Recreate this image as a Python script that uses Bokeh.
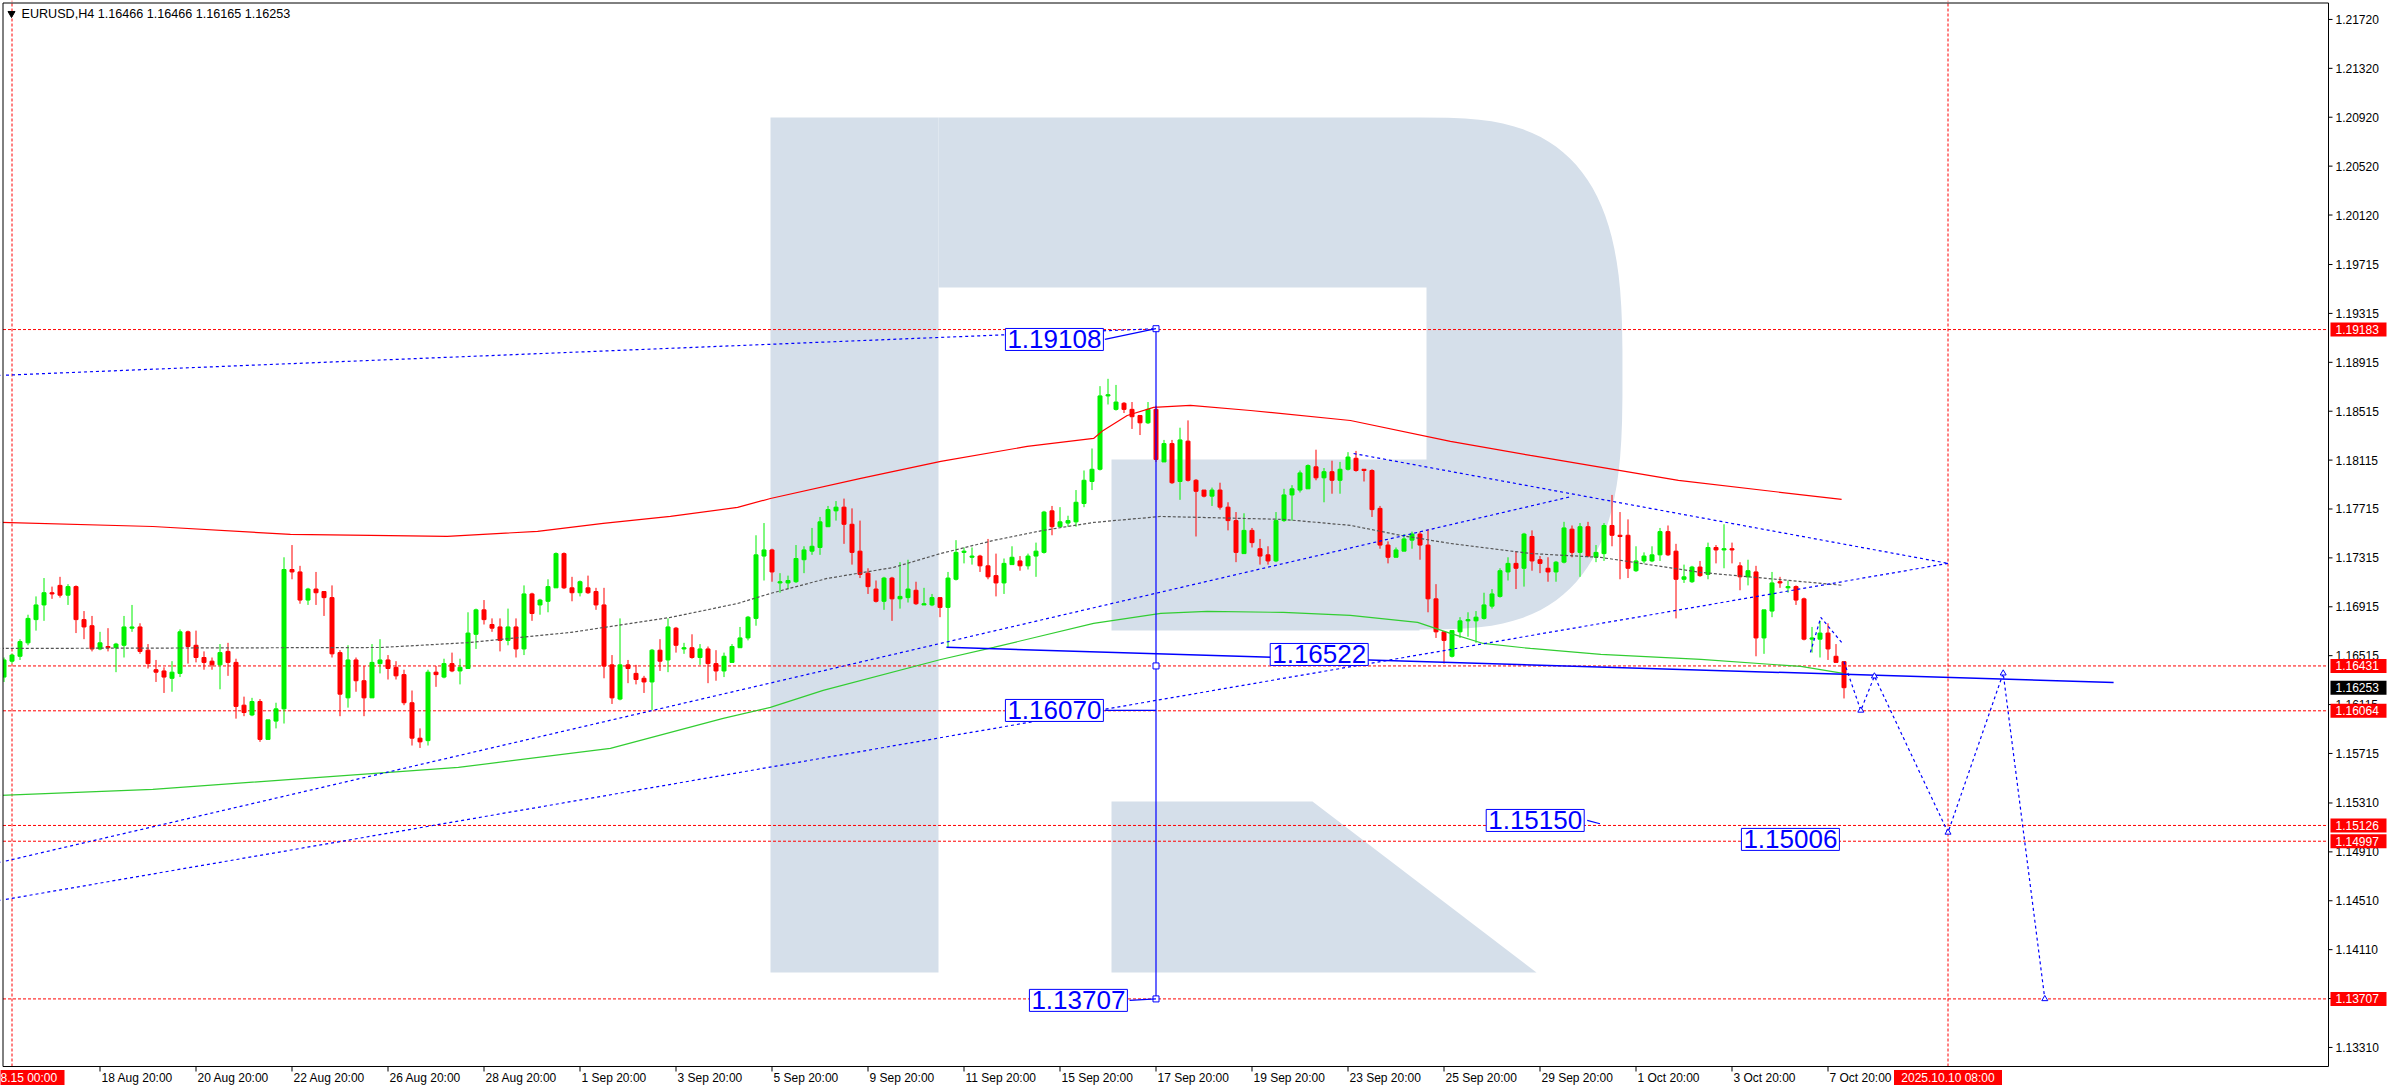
import numpy as np
from bokeh.plotting import figure
from bokeh.models import Range1d, Label, ColumnDataSource
from bokeh.core.properties import value
from bokeh.embed import file_html
from bokeh.resources import INLINE

# ---------------- data ----------------
title_text = "EURUSD,H4  1.16466 1.16466 1.16165 1.16253"
first_bar = -1   # bar index of first candle (0 = 2025.08.15 00:00)

opens = [
1.1634, 1.1647, 1.1651, 1.1662, 1.1681, 1.1693, 1.1703, 1.1709, 1.1701, 1.1708, 1.1681, 1.1676,
1.1657, 1.1659, 1.1658, 1.1660, 1.1674, 1.1675, 1.1656, 1.1640, 1.1639, 1.1633, 1.1637, 1.1671,
1.1660, 1.1650, 1.1647, 1.1644, 1.1655, 1.1646, 1.1611, 1.1603, 1.1614, 1.1583, 1.1598, 1.1608,
1.1722, 1.1720, 1.1697, 1.1706, 1.1704, 1.1699, 1.1654, 1.1617, 1.1648, 1.1631, 1.1617, 1.1645,
1.1648, 1.1642, 1.1636, 1.1613, 1.1584, 1.1582, 1.1638, 1.1634, 1.1645, 1.1639, 1.1641, 1.1669,
1.1689, 1.1677, 1.1675, 1.1664, 1.1675, 1.1657, 1.1702, 1.1693, 1.1696, 1.1707, 1.1735, 1.1707,
1.1703, 1.1707, 1.1704, 1.1693, 1.1644, 1.1616, 1.1644, 1.1637, 1.1633, 1.1630, 1.1656, 1.1648,
1.1674, 1.1657, 1.1658, 1.1650, 1.1657, 1.1645, 1.1639, 1.1646, 1.1658, 1.1666, 1.1682, 1.1733,
1.1738, 1.1711, 1.1711, 1.1712, 1.1730, 1.1737, 1.1740, 1.1757, 1.1770, 1.1773, 1.1759, 1.1737,
1.1719, 1.1706, 1.1696, 1.1715, 1.1698, 1.1699, 1.1705, 1.1693, 1.1693, 1.1699, 1.1691, 1.1714,
1.1736, 1.1732, 1.1733, 1.1725, 1.1717, 1.1711, 1.1726, 1.1729, 1.1725, 1.1733, 1.1736, 1.1770,
1.1757, 1.1760, 1.1761, 1.1776, 1.1794, 1.1804, 1.1864, 1.1853, 1.1858, 1.1853, 1.1848, 1.1842,
1.1853, 1.1810, 1.1825, 1.1794, 1.1827, 1.1795, 1.1787, 1.1782, 1.1787, 1.1773, 1.1762, 1.1735,
1.1754, 1.1739, 1.1734, 1.1729, 1.1762, 1.1783, 1.1787, 1.1788, 1.1806, 1.1797, 1.1802, 1.1795,
1.1804, 1.1813, 1.1804, 1.1803, 1.1772, 1.1742, 1.1732, 1.1737, 1.1746, 1.1751, 1.1742, 1.1698,
1.1671, 1.1651, 1.1671, 1.1680, 1.1680, 1.1682, 1.1692, 1.1700, 1.1720, 1.1727, 1.1723, 1.1749,
1.1730, 1.1723, 1.1720, 1.1728, 1.1755, 1.1736, 1.1757, 1.1732, 1.1735, 1.1758, 1.1750, 1.1750,
1.1721, 1.1729, 1.1729, 1.1734, 1.1753, 1.1737, 1.1714, 1.1712, 1.1724, 1.1718, 1.1740, 1.1738,
1.1739, 1.1725, 1.1716, 1.1720, 1.1666, 1.1688, 1.1712, 1.1707, 1.1708, 1.1698, 1.1665, 1.1665,
1.1670, 1.1651, 1.16466]

highs = [
1.1650, 1.1653, 1.1665, 1.1685, 1.1700, 1.1715, 1.1708, 1.1716, 1.1710, 1.1709, 1.1688, 1.1684,
1.1671, 1.1674, 1.1662, 1.1684, 1.1693, 1.1678, 1.1661, 1.1648, 1.1642, 1.1647, 1.1673, 1.1672,
1.1672, 1.1655, 1.1650, 1.1661, 1.1662, 1.1649, 1.1618, 1.1617, 1.1616, 1.1599, 1.1613, 1.1732,
1.1742, 1.1725, 1.1707, 1.1720, 1.1704, 1.1709, 1.1656, 1.1660, 1.1650, 1.1643, 1.1661, 1.1665,
1.1652, 1.1647, 1.1640, 1.1623, 1.1592, 1.1640, 1.1643, 1.1649, 1.1654, 1.1649, 1.1687, 1.1690,
1.1697, 1.1682, 1.1682, 1.1690, 1.1682, 1.1709, 1.1703, 1.1698, 1.1714, 1.1736, 1.1736, 1.1716,
1.1713, 1.1717, 1.1707, 1.1707, 1.1652, 1.1682, 1.1648, 1.1644, 1.1635, 1.1657, 1.1665, 1.1682,
1.1675, 1.1662, 1.1669, 1.1661, 1.1659, 1.1656, 1.1654, 1.1661, 1.1675, 1.1684, 1.1750, 1.1760,
1.1739, 1.1719, 1.1717, 1.1742, 1.1741, 1.1756, 1.1765, 1.1774, 1.1778, 1.1780, 1.1772, 1.1762,
1.1723, 1.1713, 1.1716, 1.1716, 1.1728, 1.1730, 1.1712, 1.1707, 1.1702, 1.1699, 1.1720, 1.1746,
1.1740, 1.1740, 1.1734, 1.1747, 1.1735, 1.1731, 1.1741, 1.1733, 1.1735, 1.1744, 1.1770, 1.1774,
1.1773, 1.1766, 1.1787, 1.1803, 1.1821, 1.1872, 1.1878, 1.1873, 1.1859, 1.1859, 1.1848, 1.1859,
1.1856, 1.1828, 1.1828, 1.1838, 1.1844, 1.1796, 1.1787, 1.1789, 1.1793, 1.1777, 1.1769, 1.1768,
1.1756, 1.1747, 1.1741, 1.1769, 1.1788, 1.1791, 1.1803, 1.1808, 1.1820, 1.1805, 1.1811, 1.1810,
1.1818, 1.1819, 1.1804, 1.1804, 1.1774, 1.1745, 1.1740, 1.1751, 1.1753, 1.1753, 1.1755, 1.1710,
1.1671, 1.1672, 1.1683, 1.1687, 1.1688, 1.1703, 1.1706, 1.1723, 1.1732, 1.1737, 1.1752, 1.1754,
1.1733, 1.1732, 1.1729, 1.1761, 1.1758, 1.1760, 1.1761, 1.1742, 1.1760, 1.1783, 1.1769, 1.1763,
1.1741, 1.1736, 1.1741, 1.1756, 1.1758, 1.1743, 1.1726, 1.1725, 1.1729, 1.1744, 1.1742, 1.1759,
1.1744, 1.1728, 1.1730, 1.1725, 1.1689, 1.1720, 1.1716, 1.1713, 1.1709, 1.1699, 1.1675, 1.1680,
1.1678, 1.1661, 1.16466]

lows = [
1.1630, 1.1645, 1.1648, 1.1660, 1.1672, 1.1680, 1.1698, 1.1699, 1.1693, 1.1670, 1.1665, 1.1655,
1.1656, 1.1655, 1.1638, 1.1650, 1.1671, 1.1653, 1.1641, 1.1630, 1.1621, 1.1622, 1.1634, 1.1645,
1.1646, 1.1640, 1.1640, 1.1624, 1.1635, 1.1600, 1.1602, 1.1602, 1.1581, 1.1583, 1.1592, 1.1596,
1.1714, 1.1694, 1.1693, 1.1693, 1.1684, 1.1650, 1.1602, 1.1609, 1.1622, 1.1602, 1.1617, 1.1637,
1.1632, 1.1632, 1.1611, 1.1578, 1.1576, 1.1578, 1.1626, 1.1633, 1.1638, 1.1628, 1.1641, 1.1657,
1.1677, 1.1671, 1.1655, 1.1660, 1.1650, 1.1652, 1.1680, 1.1685, 1.1687, 1.1707, 1.1706, 1.1696,
1.1700, 1.1702, 1.1689, 1.1633, 1.1612, 1.1615, 1.1629, 1.1628, 1.1621, 1.1607, 1.1639, 1.1638,
1.1654, 1.1653, 1.1649, 1.1644, 1.1629, 1.1631, 1.1634, 1.1646, 1.1658, 1.1664, 1.1676, 1.1713,
1.1712, 1.1703, 1.1706, 1.1711, 1.1719, 1.1734, 1.1734, 1.1757, 1.1762, 1.1743, 1.1726, 1.1715,
1.1702, 1.1695, 1.1689, 1.1680, 1.1690, 1.1695, 1.1693, 1.1693, 1.1692, 1.1683, 1.1658, 1.1713,
1.1727, 1.1726, 1.1720, 1.1714, 1.1700, 1.1702, 1.1726, 1.1721, 1.1722, 1.1716, 1.1735, 1.1750,
1.1757, 1.1757, 1.1757, 1.1773, 1.1787, 1.1803, 1.1857, 1.1852, 1.1850, 1.1837, 1.1832, 1.1841,
1.1810, 1.1810, 1.1792, 1.1779, 1.1794, 1.1749, 1.1781, 1.1774, 1.1771, 1.1754, 1.1728, 1.1735,
1.1740, 1.1726, 1.1726, 1.1728, 1.1761, 1.1762, 1.1785, 1.1788, 1.1795, 1.1777, 1.1784, 1.1784,
1.1803, 1.1802, 1.1794, 1.1765, 1.1739, 1.1727, 1.1732, 1.1737, 1.1739, 1.1730, 1.1687, 1.1666,
1.1645, 1.1650, 1.1666, 1.1667, 1.1662, 1.1681, 1.1690, 1.1699, 1.1713, 1.1706, 1.1708, 1.1721,
1.1719, 1.1712, 1.1712, 1.1727, 1.1732, 1.1716, 1.1732, 1.1728, 1.1729, 1.1741, 1.1714, 1.1715,
1.1720, 1.1727, 1.1728, 1.1729, 1.1733, 1.1682, 1.1711, 1.1711, 1.1716, 1.1714, 1.1727, 1.1723,
1.1727, 1.1705, 1.1709, 1.1651, 1.1653, 1.1683, 1.1707, 1.1703, 1.1693, 1.1664, 1.1654, 1.1650,
1.1648, 1.1646, 1.16165]

closes = [
1.1648, 1.1652, 1.1663, 1.1682, 1.1693, 1.1703, 1.1702, 1.1701, 1.1708, 1.1681, 1.1675, 1.1657,
1.1662, 1.1658, 1.1661, 1.1675, 1.1675, 1.1655, 1.1645, 1.1638, 1.1634, 1.1638, 1.1671, 1.1659,
1.1650, 1.1646, 1.1644, 1.1654, 1.1646, 1.1610, 1.1605, 1.1614, 1.1583, 1.1599, 1.1608, 1.1722,
1.1720, 1.1697, 1.1706, 1.1703, 1.1699, 1.1653, 1.1620, 1.1648, 1.1631, 1.1617, 1.1646, 1.1648,
1.1641, 1.1635, 1.1613, 1.1584, 1.1581, 1.1638, 1.1636, 1.1645, 1.1639, 1.1642, 1.1670, 1.1689,
1.1681, 1.1674, 1.1664, 1.1675, 1.1657, 1.1702, 1.1686, 1.1697, 1.1708, 1.1735, 1.1707, 1.1703,
1.1712, 1.1703, 1.1693, 1.1643, 1.1617, 1.1644, 1.1641, 1.1632, 1.1630, 1.1656, 1.1647, 1.1675,
1.1660, 1.1658, 1.1650, 1.1657, 1.1645, 1.1639, 1.1651, 1.1659, 1.1666, 1.1683, 1.1734, 1.1738,
1.1720, 1.1712, 1.1713, 1.1731, 1.1738, 1.1741, 1.1761, 1.1771, 1.1773, 1.1759, 1.1736, 1.1718,
1.1708, 1.1696, 1.1715, 1.1698, 1.1700, 1.1706, 1.1694, 1.1694, 1.1699, 1.1691, 1.1715, 1.1736,
1.1737, 1.1733, 1.1725, 1.1716, 1.1711, 1.1727, 1.1732, 1.1725, 1.1733, 1.1737, 1.1769, 1.1757,
1.1761, 1.1762, 1.1777, 1.1795, 1.1804, 1.1864, 1.1865, 1.1859, 1.1853, 1.1847, 1.1842, 1.1853,
1.1812, 1.1825, 1.1793, 1.1828, 1.1795, 1.1786, 1.1782, 1.1787, 1.1773, 1.1762, 1.1736, 1.1754,
1.1744, 1.1733, 1.1729, 1.1762, 1.1783, 1.1788, 1.1801, 1.1807, 1.1797, 1.1802, 1.1795, 1.1804,
1.1814, 1.1803, 1.1803, 1.1771, 1.1742, 1.1732, 1.1738, 1.1747, 1.1751, 1.1742, 1.1698, 1.1671,
1.1664, 1.1672, 1.1680, 1.1681, 1.1683, 1.1693, 1.1702, 1.1721, 1.1727, 1.1723, 1.1751, 1.1729,
1.1727, 1.1720, 1.1728, 1.1756, 1.1736, 1.1757, 1.1733, 1.1736, 1.1758, 1.1750, 1.1749, 1.1723,
1.1729, 1.1733, 1.1734, 1.1753, 1.1734, 1.1714, 1.1716, 1.1724, 1.1717, 1.1740, 1.1738, 1.1739,
1.1738, 1.1716, 1.1721, 1.1666, 1.1689, 1.1711, 1.1711, 1.1708, 1.1697, 1.1665, 1.1666, 1.1670,
1.1657, 1.1646, 1.16253]

# moving averages (bar index, price)
ma_red_x = [-1.4, 17.6, 34.8, 44.8, 54.4, 65.7, 73.9, 82.3, 90.7, 94.8, 106.1, 116.1, 126.9, 135.2,
            136.4, 139.4, 142.7, 147.3, 154.8, 167.3, 179.8, 189.8, 208.3, 228.7]
ma_red_y = [1.17605, 1.17572, 1.17507, 1.17499, 1.17491, 1.17532, 1.17597, 1.17654, 1.17728, 1.17801,
            1.17965, 1.18104, 1.18227, 1.18292, 1.18358, 1.18480, 1.18546, 1.18562, 1.18521, 1.18439,
            1.18268, 1.18153, 1.17949, 1.17793]
ma_green_x = [-1.4, 17.6, 36.7, 55.8, 74.8, 88.9, 94.8, 101.4, 116.1, 122.7, 135.2, 143.6, 149.4,
              158.9, 167.3, 175.7, 179.8, 183.9, 189.8, 198.6, 211.1, 223.6, 228.9]
ma_green_y = [1.15372, 1.15421, 1.15511, 1.15601, 1.15756, 1.16002, 1.16092, 1.16231, 1.16484,
              1.16583, 1.16779, 1.16861, 1.16877, 1.16869, 1.16844, 1.16787, 1.16697, 1.16615,
              1.16574, 1.16525, 1.16484, 1.16427, 1.16370]
ma_grey_x = [-1.4, 46.1, 57.3, 69.8, 82.3, 90.7, 94.8, 101.9, 110.2, 116.1, 122.7, 128.9, 135.2,
             143.6, 158.9, 167.3, 173.6, 179.8, 189.8, 198.6, 211.1, 219.4, 228.9]
ma_grey_y = [1.16574, 1.16582, 1.16623, 1.16705, 1.16828, 1.16942, 1.17024, 1.17147, 1.17237,
             1.17351, 1.17458, 1.17540, 1.17605, 1.17654, 1.17630, 1.17581, 1.17499, 1.17433,
             1.17351, 1.17319, 1.17196, 1.17147, 1.17090]

# drawn objects
trend_a_x, trend_a_y = [-1.5, 143], [1.18808, 1.19190]
trend_b_x, trend_b_y = [-1.5, 195], [1.14824, 1.17818]
trend_c_x, trend_c_y = [-1.5, 242], [1.14513, 1.17270]
trend_d_x, trend_d_y = [167.7, 242], [1.18169, 1.17270]
support_x, support_y = [116.8, 262.7], [1.16583, 1.16296]
vline_x, vline_y = [143, 143], [1.19190, 1.13707]
vline_nodes_y = [1.19190, 1.16431, 1.13707]
forecast_x = [229, 231.1, 232.8, 242, 248.9, 254.1]
forecast_y = [1.16466, 1.16067, 1.16347, 1.15069, 1.16371, 1.13707]
zigzag_x = [224.8, 226.1, 228.9]
zigzag_y = [1.16542, 1.16828, 1.16608]

levels = [1.19183, 1.16431, 1.16064, 1.15126, 1.14997, 1.13707]
current_price = 1.16253

box_texts = ["1.19108", "1.16070", "1.16522", "1.15150", "1.15006", "1.13707"]
box_x = [130.3, 130.3, 163.4, 190.4, 222.3, 133.3]
box_y = [1.19102, 1.16067, 1.16525, 1.15167, 1.15012, 1.13695]

tick_bars = [11, 23, 35, 47, 59, 71, 83, 95, 107, 119, 131, 143, 155, 167, 179, 191, 203, 215, 227]
tick_labels = ["18 Aug 20:00", "20 Aug 20:00", "22 Aug 20:00", "26 Aug 20:00", "28 Aug 20:00",
               "1 Sep 20:00", "3 Sep 20:00", "5 Sep 20:00", "9 Sep 20:00", "11 Sep 20:00",
               "15 Sep 20:00", "17 Sep 20:00", "19 Sep 20:00", "23 Sep 20:00", "25 Sep 20:00",
               "29 Sep 20:00", "1 Oct 20:00", "3 Oct 20:00", "7 Oct 20:00"]
price_ticks = [1.21720, 1.21320, 1.20920, 1.20520, 1.20120, 1.19715, 1.19315, 1.18915, 1.18515,
               1.18115, 1.17715, 1.17315, 1.16915, 1.16515, 1.16115, 1.15715, 1.15310, 1.14910,
               1.14510, 1.14110, 1.13710, 1.13310]
crosshair_bars = [0, 242]
crosshair_texts = ["2025.08.15 00:00", "2025.10.10 08:00"]

# ---------------- layout (whole canvas is the data frame) ----------------
W, H = 2392, 1090
BAR_PX = 8.0                 # pixels per bar
PRICE_PX = 0.00008181        # price per pixel
X0 = -11.5 / BAR_PX          # canvas x = 0
X1 = X0 + W / BAR_PX
Y1 = 1.21875                 # canvas y = 0
Y0 = Y1 - H * PRICE_PX

def cx(px):   # canvas pixel -> bar coordinate
    return X0 + px / BAR_PX

def cy(py):   # canvas pixel -> price coordinate
    return Y1 - py * PRICE_PX

XL, XR = cx(2.5), cx(2328)
YT, YB = cy(2.5), cy(1066)
FONT = "Liberation Sans"
BLUE = "#0000FF"

p = figure(width=W, height=H, x_range=Range1d(X0, X1), y_range=Range1d(Y0, Y1),
           x_axis_location=None, y_axis_location=None, output_backend="svg", toolbar_location=None,
           min_border_left=0, min_border_top=0, min_border_right=0, min_border_bottom=0,
           background_fill_color="white", border_fill_color="white")
p.grid.visible = False
p.outline_line_color = None

# watermark "R" (decoration), outline given in canvas pixels
t = np.linspace(-np.pi / 2, np.pi / 2, 60)
arc_x = 1419 + 203 * np.sign(np.cos(t)) * np.abs(np.cos(t)) ** (2 / 3)
arc_y = 373 + 256 * np.sign(np.sin(t)) * np.abs(np.sin(t)) ** (2 / 3)
bowl_x = [938, 1419] + list(arc_x) + [1419, 1111, 1111, 1426, 1426, 938]
bowl_y = [117, 117] + list(arc_y) + [630, 630, 459, 459, 287, 287]
stem_x, stem_y = [770, 938, 938, 770], [117, 117, 972, 972]
leg_x, leg_y = [1111, 1312, 1536, 1111], [801, 801, 972, 972]
wxs, wys = [], []
for sx, sy in [(stem_x, stem_y), (bowl_x, bowl_y), (leg_x, leg_y)]:
    wxs.append([cx(v) for v in sx])
    wys.append([cy(v) for v in sy])
p.patches(wxs, wys, fill_color="#D5DFEA", line_color=None)

# level lines and crosshair lines
p.segment(x0=[XL] * len(levels), y0=levels, x1=[XR] * len(levels), y1=levels,
          line_color="#FF0000", line_dash="3 2", line_width=1)
p.segment(x0=crosshair_bars, y0=[YB] * 2, x1=crosshair_bars, y1=[Y1] * 2,
          line_color="#FF0000", line_dash="3 2", line_width=1)

# candles
idx = list(range(first_bar, first_bar + len(opens)))
up = dict(x=[], h=[], l=[], top=[], bot=[])
dn = dict(x=[], h=[], l=[], top=[], bot=[])
for i, o, h, l, c in zip(idx, opens, highs, lows, closes):
    d = up if c >= o else dn
    d["x"].append(i); d["h"].append(h); d["l"].append(l)
    d["top"].append(max(o, c)); d["bot"].append(min(o, c))
for d, col in [(up, "#00F000"), (dn, "#FF0000")]:
    src = ColumnDataSource(d)
    p.segment(x0="x", y0="l", x1="x", y1="h", source=src, line_color=col, line_width=1)
    p.vbar(x="x", width=0.5, top="top", bottom="bot", source=src, fill_color=col, line_color=col, line_width=1)

# moving averages
p.line(ma_red_x, ma_red_y, line_color="#FF0000", line_width=1.2)
p.line(ma_green_x, ma_green_y, line_color="#32CD32", line_width=1.2)
p.line(ma_grey_x, ma_grey_y, line_color="#555555", line_width=1.2, line_dash="3 2")

# analysis lines
for xs, ys in [(trend_a_x, trend_a_y), (trend_b_x, trend_b_y), (trend_c_x, trend_c_y), (trend_d_x, trend_d_y)]:
    p.line(xs, ys, line_color=BLUE, line_width=1.2, line_dash="3 3")
p.line(support_x, support_y, line_color=BLUE, line_width=1.5)
p.line(vline_x, vline_y, line_color=BLUE, line_width=1.2)
p.scatter([143] * len(vline_nodes_y), vline_nodes_y, marker="square", size=6, fill_color="white", line_color=BLUE)
p.line(forecast_x, forecast_y, line_color=BLUE, line_width=1.2, line_dash="3 3")
p.scatter(forecast_x[1:], forecast_y[1:], marker="triangle", size=6, fill_color="white", line_color=BLUE)
p.line(zigzag_x, zigzag_y, line_color=BLUE, line_width=1.2, line_dash="3 3")

# connectors for boxes
p.segment(x0=[136.6, 136.6, 139.7, 196.9], y0=[1.19102, 1.16067, 1.13695, 1.15167],
          x1=[143, 143, 143, 198.5], y1=[1.19190, 1.16067, 1.13707, 1.15140],
          line_color=BLUE, line_width=1.2)

for txt, bx, by in zip(box_texts, box_x, box_y):
    p.add_layout(Label(x=bx, y=by, text=txt, text_align="center", text_baseline="middle",
                       text_font=FONT, text_font_size="26px", text_color=BLUE,
                       background_fill_color="white", border_line_color=BLUE, border_line_width=1,
                       padding=2))

# left-edge white strip and chart box
p.quad(left=[X0], right=[XL], bottom=[Y0], top=[Y1], fill_color="white", line_color=None)
p.line([XL, XL, XR, XR, XL], [YT, YB, YB, YT, YT], line_color="black", line_width=1)

# title
ty = cy(13)
p.scatter([cx(11)], [ty], marker="inverted_triangle", size=7, fill_color="black", line_color="black")
p.text([cx(21)], [ty], text=[title_text], text_align="left", text_baseline="middle",
       text_font=value(FONT), text_font_size=value("12.6px"), text_color="black")

# right price axis
n = len(price_ticks)
p.segment(x0=[XR] * n, y0=price_ticks, x1=[cx(2332)] * n, y1=price_ticks, line_color="black", line_width=1)
p.text([cx(2335)] * n, price_ticks, text=[f"{v:.5f}" for v in price_ticks], text_align="left",
       text_baseline="middle", text_font=value(FONT), text_font_size=value("12px"), text_color="black")

# bottom time axis
m = len(tick_bars)
p.segment(x0=tick_bars, y0=[YB] * m, x1=tick_bars, y1=[cy(1071)] * m, line_color="black", line_width=1)
p.text([b + 1.5 / BAR_PX for b in tick_bars], [cy(1077)] * m, text=tick_labels, text_align="left",
       text_baseline="middle", text_font=value(FONT), text_font_size=value("12px"), text_color="black")

# axis tags
tag_prices = levels + [current_price]
tag_colors = ["#FF0000"] * len(levels) + ["black"]
p.rect([cx(2358)] * len(tag_prices), tag_prices, width=56, height=14, width_units="screen", height_units="screen",
       fill_color=tag_colors, line_color=None)
p.text([cx(2335)] * len(tag_prices), tag_prices, text=[f"{v:.5f}" for v in tag_prices], text_align="left",
       text_baseline="middle", text_font=value(FONT), text_font_size=value("12px"), text_color="white")

tag_x = [cx(10), crosshair_bars[1]]
p.rect(tag_x, [cy(1077)] * 2, width=108, height=15, width_units="screen", height_units="screen",
       fill_color="#FF0000", line_color=None)
p.text(tag_x, [cy(1077)] * 2, text=crosshair_texts, text_align="center", text_baseline="middle",
       text_font=value(FONT), text_font_size=value("12px"), text_color="white")

open("out.html", "w").write(file_html(p, INLINE))
